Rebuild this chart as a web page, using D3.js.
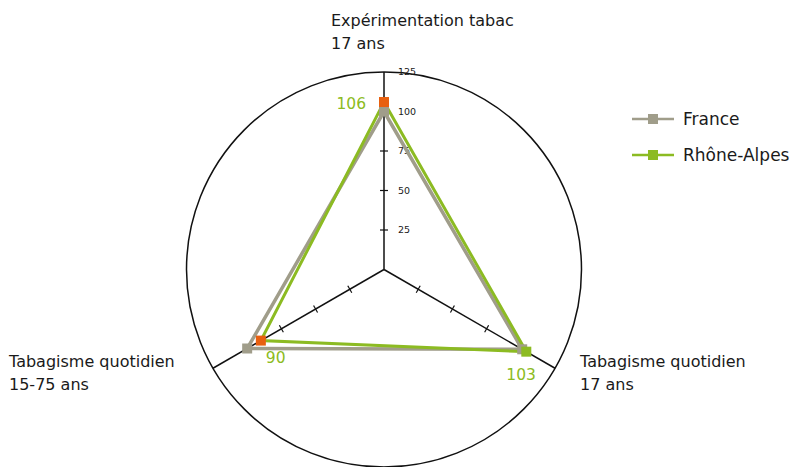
<!DOCTYPE html>
<html>
<head>
<meta charset="utf-8">
<script src="https://cdn.jsdelivr.net/npm/d3@7"></script>
<style>
  body { margin: 0; background: #fff; }
  text { font-family: "DejaVu Sans", sans-serif; fill: #1a1a1a; }
</style>
</head>
<body>
<div id="radar"></div>
<script>
// Données : indices comparatifs (France = 100)
var axes = [
  ["Expérimentation tabac", "17 ans"],
  ["Tabagisme quotidien", "17 ans"],
  ["Tabagisme quotidien", "15-75 ans"]
];
var france = [100, 101, 100];
var rhoneAlpes = [106, 104, 90];
var rhoneAlpesLabels = ["106", "103", "90"];
var significatif = [true, false, true];
var gradTicks = [25, 50, 75, 100, 125];
var seriesNames = ["France", "Rhône-Alpes"];

var svgWidth = 793;
var svgHeight = 467;
var cx = 384, cy = 269.5;
var maxR = 197.5;

var gray = "#a09d8a";
var green = "#8cbb22";
var orange = "#e8600f";

var svg = d3.select("#radar")
  .append("svg")
  .attr("width", svgWidth)
  .attr("height", svgHeight);

var chartGroup = svg.append("g")
  .attr("transform", `translate(${cx}, ${cy})`);

var rScale = d3.scaleLinear().domain([0, 125]).range([0, maxR]);

// angle de chaque axe (sens horaire depuis le haut)
var angle = d3.scaleOrdinal()
  .domain(d3.range(axes.length))
  .range([-Math.PI / 2, Math.PI / 6, 5 * Math.PI / 6]);

function pt(i, v) {
  var a = angle(i);
  return [Math.cos(a) * rScale(v), Math.sin(a) * rScale(v)];
}

// cercle extérieur
chartGroup.append("circle")
  .attr("r", rScale(125))
  .attr("fill", "none")
  .attr("stroke", "#111")
  .attr("stroke-width", 1.5);

// axes
axes.forEach(function(d, i) {
  var end = pt(i, 125);
  chartGroup.append("line")
    .attr("x1", 0).attr("y1", 0)
    .attr("x2", end[0]).attr("y2", end[1])
    .attr("stroke", "#111")
    .attr("stroke-width", 1.5);

  var a = angle(i);
  gradTicks.slice(0, 4).forEach(function(t) {
    var p = pt(i, t);
    var nx = -Math.sin(a) * 4, ny = Math.cos(a) * 4;
    chartGroup.append("line")
      .attr("x1", p[0] - nx).attr("y1", p[1] - ny)
      .attr("x2", p[0] + nx).attr("y2", p[1] + ny)
      .attr("stroke", "#111")
      .attr("stroke-width", 1.2);
  });
});

// graduations de l'axe vertical
chartGroup.selectAll(".grad")
  .data(gradTicks)
  .enter()
  .append("text")
  .attr("class", "grad")
  .attr("x", 14)
  .attr("y", d => -rScale(d))
  .attr("dy", "0.35em")
  .attr("font-size", "9.5px")
  .text(d => d);

// séries
var line = d3.line().curve(d3.curveLinearClosed);

chartGroup.append("path")
  .attr("d", line(france.map((v, i) => pt(i, v))))
  .attr("fill", "none")
  .attr("stroke", gray)
  .attr("stroke-width", 3.5)
  .attr("stroke-linejoin", "miter");

chartGroup.append("path")
  .attr("d", line(rhoneAlpes.map((v, i) => pt(i, v))))
  .attr("fill", "none")
  .attr("stroke", green)
  .attr("stroke-width", 3)
  .attr("stroke-linejoin", "miter");

chartGroup.selectAll(".mFrance")
  .data(france)
  .enter()
  .append("rect")
  .attr("x", (d, i) => pt(i, d)[0] - 5)
  .attr("y", (d, i) => pt(i, d)[1] - 5)
  .attr("width", 10)
  .attr("height", 10)
  .attr("fill", gray);

chartGroup.selectAll(".mRA")
  .data(rhoneAlpes)
  .enter()
  .append("rect")
  .attr("x", (d, i) => pt(i, d)[0] - 5)
  .attr("y", (d, i) => pt(i, d)[1] - 5)
  .attr("width", 10)
  .attr("height", 10)
  .attr("fill", (d, i) => significatif[i] ? orange : green);

// étiquettes de valeurs
var labelOffsets = [[-18, 7, "end"], [-20, 28, "start"], [5, 22, "start"]];
chartGroup.selectAll(".val")
  .data(rhoneAlpes)
  .enter()
  .append("text")
  .attr("x", (d, i) => pt(i, d)[0] + labelOffsets[i][0])
  .attr("y", (d, i) => pt(i, d)[1] + labelOffsets[i][1])
  .attr("text-anchor", (d, i) => labelOffsets[i][2])
  .attr("font-size", "15.5px")
  .style("fill", green)
  .text((d, i) => rhoneAlpesLabels[i]);

// libellés des axes
var axisLabelPos = [[331, 26], [580, 367], [9, 367]];
axes.forEach(function(d, i) {
  var t = svg.append("text")
    .attr("x", axisLabelPos[i][0])
    .attr("y", axisLabelPos[i][1])
    .attr("font-size", "16px");
  d.forEach(function(s, j) {
    t.append("tspan")
      .attr("x", axisLabelPos[i][0])
      .attr("dy", j === 0 ? 0 : 23)
      .text(s);
  });
});

// légende
var legend = svg.append("g").attr("transform", "translate(632, 119)");
seriesNames.forEach(function(name, i) {
  var g = legend.append("g").attr("transform", `translate(0, ${i * 36})`);
  g.append("line")
    .attr("x1", 0).attr("x2", 42)
    .attr("stroke", i === 0 ? gray : green)
    .attr("stroke-width", 2.5);
  g.append("rect")
    .attr("x", 16).attr("y", -5)
    .attr("width", 10).attr("height", 10)
    .attr("fill", i === 0 ? gray : green);
  g.append("text")
    .attr("x", 51)
    .attr("y", 0)
    .attr("dy", "0.35em")
    .attr("font-size", "17px")
    .text(name);
});
</script>
</body>
</html>
